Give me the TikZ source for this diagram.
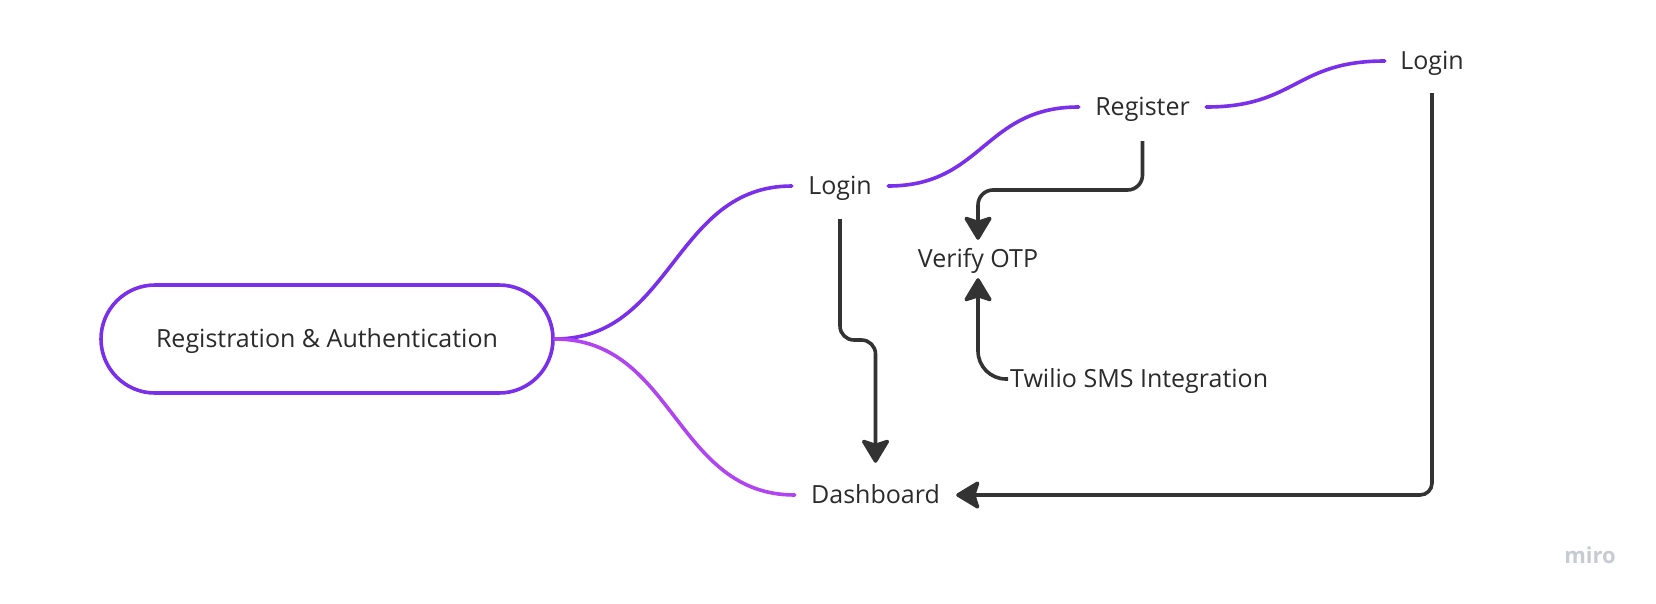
\documentclass[tikz,border=0pt]{standalone}
\usepackage{fontspec}
\setmainfont{Open Sans}
\usetikzlibrary{arrows.meta,calc}
\definecolor{purp}{HTML}{7A30EB}
\definecolor{mag}{HTML}{B044F1}
\definecolor{ink}{HTML}{333333}
\definecolor{txt}{HTML}{2B2B2B}
\definecolor{wm}{HTML}{C8CBD2}
\begin{document}
\begin{tikzpicture}[x=1pt,y=-1pt,
  lbl/.style={font=\fontsize{25}{30}\selectfont, text=txt, inner sep=0pt, text height=17.8pt, text depth=0pt},
  branch/.style={line width=3.6pt, line cap=round},
  arr/.style={draw=ink, line width=3.6pt, rounded corners=14pt, -{Stealth[length=26pt,width=31pt,inset=5pt,round]}},
]
\fill[white] (0,0) rectangle (1656,603);
\useasboundingbox (0,0) rectangle (1656,603);

\node[lbl, draw=purp, line width=3.6pt, rounded corners=54pt, minimum width=452pt, minimum height=108pt] (root) at (327,339) {Registration \& Authentication};
\node[lbl, minimum width=96pt, minimum height=66pt] (login1) at (840,186) {Login};
\node[lbl, minimum width=127pt, minimum height=68pt] (register) at (1142.5,107) {Register};
\node[lbl, minimum width=94pt, minimum height=64pt] (login2) at (1432,61) {Login};
\node[lbl, minimum height=38pt] (verify) at (978,259) {Verify OTP};
\node[lbl, anchor=west, inner xsep=2pt] (twilio) at (1008,379) {Twilio SMS Integration};
\node[lbl, minimum width=161pt, minimum height=64pt] (dash) at (875.5,495) {Dashboard};
\node[font=\fontsize{22}{26}\selectfont\bfseries, text=wm, anchor=base] (miro) at (1590,563) {miro};

\draw[branch, purp] (root.east) .. controls +(118,0) and +(-118,0) .. (login1.west);
\draw[branch, mag] (root.east) .. controls +(120,0) and +(-120,0) .. (dash.west);
\draw[branch, purp] (login1.east) .. controls +(95,0) and +(-95,0) .. (register.west);
\draw[branch, purp] (register.east) .. controls +(90,0) and +(-90,0) .. (login2.west);

\coordinate (j1) at (0,340);
\coordinate (j2) at (0,190);
\draw[arr] (login1.south) -- (login1.south |- j1) -- (dash.north |- j1) -- (dash.north);
\draw[arr, rounded corners=15pt] (register.south) -- (register.south |- j2) -- (verify.north |- j2) -- (verify.north);
\draw[arr, rounded corners=28pt] (twilio.west) -- (verify.south |- twilio.west) -- (verify.south);
\draw[arr, rounded corners=12pt] (login2.south) |- (dash.east);
\end{tikzpicture}
\end{document}
